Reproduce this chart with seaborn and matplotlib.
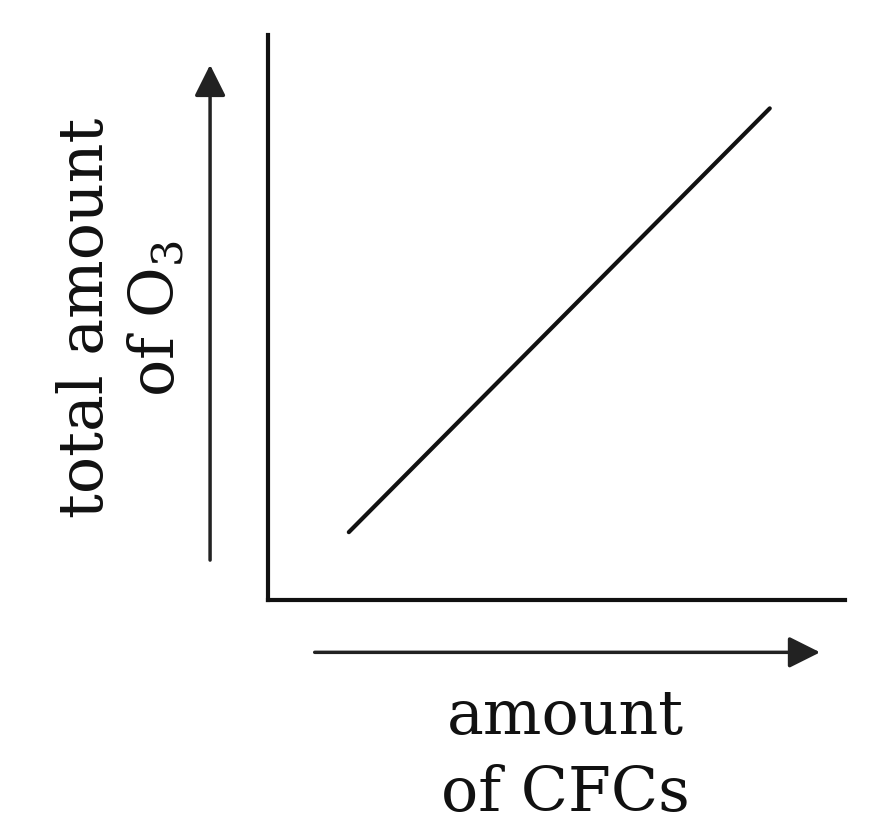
import matplotlib
matplotlib.use("Agg")
import matplotlib.pyplot as plt
import seaborn as sns
import pandas as pd

# schematic: ozone vs CFCs, just a straight rising line
cfc_amount = [1.4, 8.7]
o3_amount = [1.2, 8.7]

sns.set_theme(style="white")
plt.rcParams['font.family'] = ['DejaVu Serif']
plt.rcParams['mathtext.fontset'] = 'dejavuserif'

df = pd.DataFrame({'cfc': cfc_amount, 'o3': o3_amount})

fig = plt.figure(figsize=(8.79, 8.31), dpi=100)
ax = fig.add_axes([0.305, 0.278, 0.656, 0.680])

sns.lineplot(data=df, x='cfc', y='o3', ax=ax, color='#111111', linewidth=3)

ax.set_xlim(0, 10)
ax.set_ylim(0, 10)
ax.set_xticks([])
ax.set_yticks([])
ax.set_xlabel('')
ax.set_ylabel('')
sns.despine(ax=ax)
for side in ['left', 'bottom']:
    ax.spines[side].set_color('#111111')
    ax.spines[side].set_linewidth(3)

# direction arrows beside the axes
arrow = dict(arrowstyle='-|>', color='#222222', lw=2.5, mutation_scale=48,
             shrinkA=0, shrinkB=0)
ax.annotate('', xy=(0.239, 0.922), xytext=(0.239, 0.326),
            xycoords='figure fraction', textcoords='figure fraction',
            arrowprops=arrow, annotation_clip=False)
ax.annotate('', xy=(0.933, 0.215), xytext=(0.358, 0.215),
            xycoords='figure fraction', textcoords='figure fraction',
            arrowprops=arrow, annotation_clip=False)

fig.text(0.138, 0.617, 'total amount\nof O$_3$', rotation=90, ha='center', va='center',
         fontsize=44.5, color='#111111', linespacing=1.2)
fig.text(0.643, 0.091, 'amount\nof CFCs', ha='center', va='center',
         fontsize=44.5, color='#111111', linespacing=1.35)

plt.savefig('out.png', dpi=100)
plt.close()
